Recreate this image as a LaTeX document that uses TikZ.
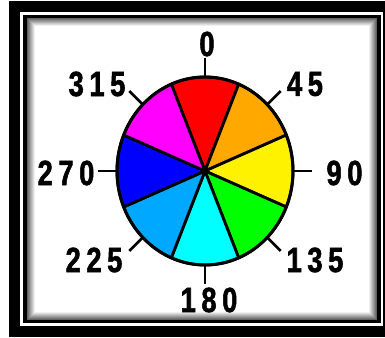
\documentclass[tikz,border=0pt]{standalone}
\usepackage{fontspec}
\newfontfamily\dialfont[FakeStretch=0.78,LetterSpace=16,FakeBold=1.5]{Liberation Sans}
\definecolor{dialorange}{HTML}{FFA800}
\definecolor{diallightblue}{HTML}{00A8FF}
\definecolor{dialcyan}{HTML}{00FFFF}
\definecolor{dialmagenta}{HTML}{FF00FF}
\definecolor{dialgreen}{HTML}{00FF00}
\begin{document}
\begin{tikzpicture}[x=1pt, y=-1pt, every node/.style={inner sep=0pt, font=\dialfont\bfseries\fontsize{35}{35}\selectfont}, rim/.style={line width=3pt}, tick/.style={line width=2.8pt}]
	\useasboundingbox (0,0) rectangle (385,337);
	\fill[black] (9,1) rectangle (385,337);
	\fill[white] (20,12) rectangle (382.7,325.7);
	\fill[black] (23,15) rectangle (380.7,323.3);
	\fill[white] (26.7,18) rectangle (377,320);
	\foreach \i [evaluate=\i as \g using 62-\i*8] in {0,...,7}
		\draw[line width=1pt, black!\g] (27.2+\i,18.5+\i) rectangle (376.5-\i,319.5-\i);
	\coordinate (c) at (205,171);
	\foreach \a/\col in {0/red, 45/dialorange, 90/yellow, 135/dialgreen, 180/dialcyan, 225/diallightblue, 270/blue, 315/dialmagenta}
		\filldraw[fill=\col, draw=black, line width=2.8pt, line join=round] (c) -- ++(\a-112.5:88 and 94) arc[start angle=\a-112.5, end angle=\a-67.5, x radius=88, y radius=94] -- cycle;
	\draw[rim] (c) ellipse [x radius=88, y radius=94];
	\fill (c) circle (4.5);
	\foreach \a in {0,45,...,315}
		\draw[tick] (c) ++(\a-90:88 and 94) -- ++(\a-90:19 and 19);
	\node (l0) at (207,44) {0};
	\node (l45) at (305,84) {45};
	\node (l90) at (344.5,173) {90};
	\node (l135) at (315,260) {135};
	\node (l180) at (209,300) {180};
	\node (l225) at (94,260) {225};
	\node (l270) at (66,173) {270};
	\node (l315) at (97,84) {315};
\end{tikzpicture}
\end{document}
